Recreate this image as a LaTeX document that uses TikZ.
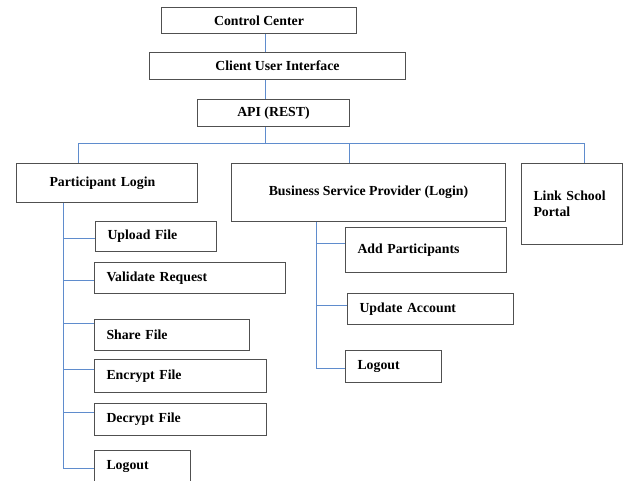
\documentclass[tikz,border=0pt]{standalone}
\usepackage{fontspec}
\setmainfont{Liberation Serif}
\definecolor{conncol}{RGB}{95,140,205}
\definecolor{boxcol}{RGB}{80,80,80}
\tikzset{
  box/.style={draw=boxcol, line width=1pt, font=\bfseries\fontsize{13.8}{15.5}\selectfont,
    anchor=north west, inner ysep=0pt, text=black},
  cbox/.style={box, align=center, inner xsep=0pt},
  lbox/.style={box, align=left, inner xsep=12pt},
  conn/.style={draw=conncol, line width=1pt}
}
\begin{document}
\begin{tikzpicture}[x=1pt,y=-1pt]
\fill[white] (0,0) rectangle (630,481);
\useasboundingbox (0,0) rectangle (630,481);
% top column
\node[cbox, minimum width=195pt, minimum height=26pt] (cc) at (161,7) {Control Center};
\node[cbox, minimum width=256pt, minimum height=27pt] (cui) at (149,52) {Client User Interface};
\node[cbox, minimum width=152pt, minimum height=27pt] (api) at (197,99) {API (REST)};
% second level
\node[lbox, inner xsep=33pt, text width=115pt, minimum height=39pt] (pl) at (16,163) {Participant Login};
\node[cbox, minimum width=274pt, minimum height=58pt] (bsp) at (231,163) {Business Service Provider (Login)};
\node[lbox, text width=77pt, minimum height=81pt] (link) at (521,163) {Link School\\Portal\\[8pt]};
% participant children
\node[lbox, text width=97pt, minimum height=30pt] (up) at (95,221) {Upload File};
\node[lbox, text width=167pt, minimum height=31pt] (val) at (94,262) {Validate Request};
\node[lbox, text width=131pt, minimum height=31pt] (share) at (94,319) {Share File};
\node[lbox, text width=148pt, minimum height=33pt] (enc) at (94,359) {Encrypt File};
\node[lbox, text width=148pt, minimum height=32pt] (dec) at (94,403) {Decrypt File};
\node[lbox, text width=72pt, minimum height=32pt] (lo1) at (94,450) {Logout};
% business children
\node[lbox, text width=137pt, minimum height=45pt] (add) at (345,227) {Add Participants};
\node[lbox, text width=142pt, minimum height=31pt] (upd) at (347,293) {Update Account};
\node[lbox, text width=72pt, minimum height=32pt] (lo2) at (345,350) {Logout};
% guide coordinates
\coordinate (vx) at (265,0);
\coordinate (lx) at (78,0);
\coordinate (mx) at (349,0);
\coordinate (rx) at (584,0);
\coordinate (busy) at (0,144);
\coordinate (tx) at (63,0);
\coordinate (bx) at (316,0);
% top connectors
\draw[conn] (cc.south -| vx) -- (cui.north -| vx);
\draw[conn] (cui.south -| vx) -- (api.north -| vx);
\draw[conn] (api.south -| vx) -- (busy -| vx);
\draw[conn] (pl.north -| lx) -- (busy -| lx) -- (busy -| rx) -- (link.north -| rx);
\draw[conn] (busy -| mx) -- (bsp.north -| mx);
% participant trunk
\draw[conn] (pl.south -| tx) -- (tx |- 0,468) -- (lo1.west |- 0,468);
\draw[conn] (tx |- 0,239) -- (up.west |- 0,239);
\draw[conn] (tx |- 0,281) -- (val.west |- 0,281);
\draw[conn] (tx |- 0,324) -- (share.west |- 0,324);
\draw[conn] (tx |- 0,370) -- (enc.west |- 0,370);
\draw[conn] (tx |- 0,413) -- (dec.west |- 0,413);
% business trunk
\draw[conn] (bsp.south -| bx) -- (bx |- 0,369) -- (lo2.west |- 0,369);
\draw[conn] (bx |- 0,244) -- (add.west |- 0,244);
\draw[conn] (bx |- 0,306) -- (upd.west |- 0,306);
\end{tikzpicture}
\end{document}
